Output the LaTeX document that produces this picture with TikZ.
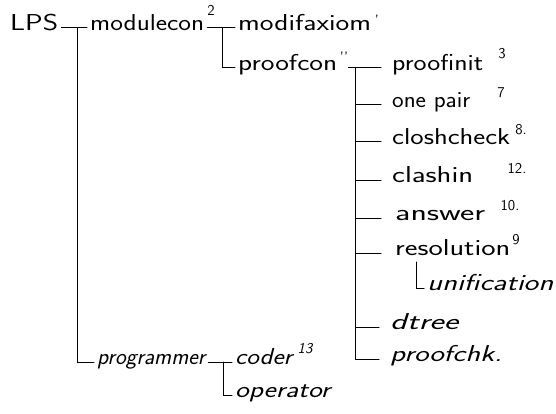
\documentclass[tikz,border=0pt]{standalone}
\usepackage{fontspec}
\usepackage{graphicx}
\newcommand\hw[2]{\resizebox{#1pt}{\height}{#2}}
\begin{document}
\begin{tikzpicture}[x=1pt,y=-1pt,
  lab/.style={font=\sffamily\fontsize{23}{23}\selectfont, inner xsep=3pt, inner ysep=0pt, anchor=mid west},
  ilab/.style={lab, font=\sffamily\itshape\fontsize{23}{23}\selectfont},
  sup/.style={font=\sffamily\fontsize{15}{15}\selectfont, inner sep=0pt},
  ln/.style={line width=1pt, line cap=round}]
\useasboundingbox (0,0) rectangle (556,414);
% nodes
\node[lab] (LPS) at (7,28) {\hw{48}{LPS}};
\node[lab] (mod) at (87,28) {\hw{114}{modulecon}};
\node[sup] (s2) at (211,10) {2};
\node[lab] (mfx) at (235,28) {\hw{133}{modifaxiom}};
\node[sup] (s1) at (377,20) {'};
\node[lab] (pcon) at (235,68) {\hw{99}{proofcon}};
\node[sup] (s11) at (344,57) {{'}{'}};
\node[lab] (pinit) at (389,68) {\hw{91}{proofinit}};
\node[sup] (s3) at (502,54) {3};
\node[lab] (onep) at (389,105) {\hw{78}{one pair}};
\node[sup] (s7) at (501,93) {7};
\node[lab] (cchk) at (389,142) {\hw{118}{closhcheck}};
\node[sup] (s8) at (521,130) {8.};
\node[lab] (cin) at (389,180) {\hw{81}{clashin}};
\node[sup] (s12) at (517,168) {12.};
\node[lab] (ans) at (392,218) {\hw{90}{answer}};
\node[sup] (s10) at (510,206) {10.};
\node[lab] (res) at (392,253) {\hw{115}{resolution}};
\node[sup] (s9) at (516,240) {9};
\node[ilab] (unif) at (424,288) {\hw{126}{unification}};
\node[ilab] (dtr) at (387,327) {\hw{68}{dtree}};
\node[ilab] (pchk) at (387,359) {\hw{112}{proofchk.}};
\node[ilab] (prog) at (94,362) {\hw{108}{programmer}};
\node[ilab] (coder) at (232,362) {\hw{57}{coder}};
\node[sup, font=\sffamily\itshape\fontsize{15}{15}\selectfont] (s13) at (305,349) {13};
\node[ilab] (oper) at (232,395) {\hw{95}{operator}};
% junctions
\coordinate (jA) at (77,28);
\coordinate (jB) at (222,28);
\coordinate (jC) at (355,68);
\coordinate (jD) at (416,262);
\coordinate (jE) at (223,362);
% connectors
\draw[ln] (LPS.mid east) -- (mod.mid west);
\draw[ln] (jA) |- (prog.mid west);
\draw[ln] (mod.mid east) -- (mfx.mid west);
\draw[ln] (jB) |- (pcon.mid west);
\draw[ln] (s11.east |- pcon.mid) -- ([xshift=-8pt]pinit.mid west);
\draw[ln] (jC) |- ([xshift=-8pt]onep.mid west);
\draw[ln] (jC) |- ([xshift=-8pt]cchk.mid west);
\draw[ln] (jC) |- ([xshift=-8pt]cin.mid west);
\draw[ln] (jC) |- ([xshift=-11pt]ans.mid west);
\draw[ln] (jC) |- ([xshift=-11pt]res.mid west);
\draw[ln] (jC) |- ([xshift=-8pt]dtr.mid west);
\draw[ln] (jC) |- ([xshift=-8pt]pchk.mid west);
\draw[ln] (jD) |- (unif.mid west);
\draw[ln] (prog.mid east) -- (coder.mid west);
\draw[ln] (jE) |- (oper.mid west);
\end{tikzpicture}
\end{document}
